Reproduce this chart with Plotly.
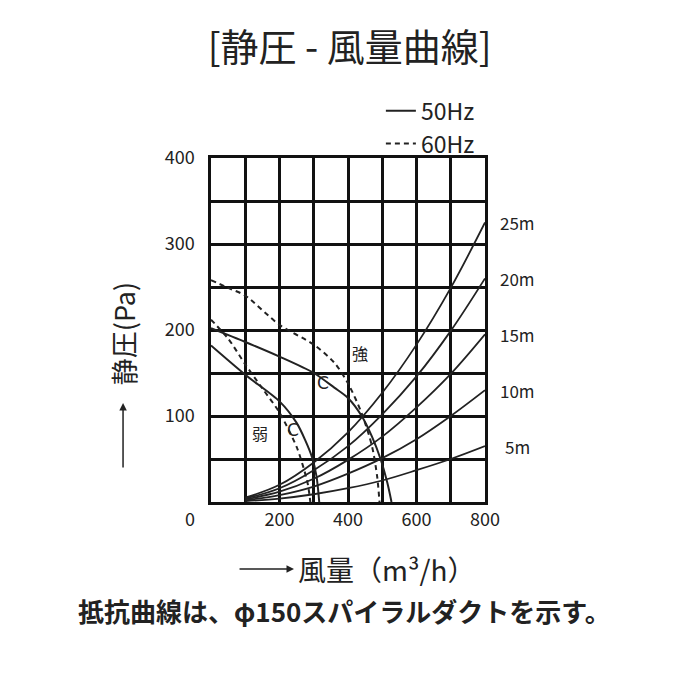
import plotly.graph_objects as go

FONT = "Noto Sans CJK JP"

# fan curves (static pressure vs air volume)
q_strong_50 = [0, 100, 200, 300, 360, 400, 440, 470, 495, 515, 527]
p_strong_50 = [202, 186, 169, 150, 133, 121, 100, 76, 50, 22, 0]
q_strong_60 = [0, 50, 100, 200, 300, 360, 400, 440, 470, 485, 492]
p_strong_60 = [258, 249, 240, 206, 183, 162, 138, 103, 65, 30, 0]
q_weak_50 = [0, 100, 200, 250, 275, 295, 308, 316]
p_weak_50 = [182, 148, 117, 92, 72, 52, 30, 0]
q_weak_60 = [0, 50, 100, 150, 200, 250, 270, 283, 290]
p_weak_60 = [212, 190, 160, 132, 104, 64, 40, 20, 0]

# duct resistance curves
q_duct = [100, 200, 300, 400, 500, 600, 700, 800]
duct_labels = ["5m", "10m", "15m", "20m", "25m"]
p_duct = [
    [1, 4, 9, 16, 25, 37, 50, 65],
    [2, 8, 18, 33, 51, 73, 100, 130],
    [3, 12, 27, 49, 76, 110, 149, 195],
    [4, 16, 37, 65, 102, 146, 199, 260],
    [5, 20, 46, 81, 127, 183, 249, 325],
]

x_ticks = [0, 100, 200, 300, 400, 500, 600, 700, 800]
x_ticktext = ["", "", "200", "", "400", "", "600", "", "800"]
y_ticks = [0, 50, 100, 150, 200, 250, 300, 350, 400]
y_ticktext = ["", "", "100", "", "200", "", "300", "", "400"]

fig = go.Figure()

line_solid = dict(color="#222", width=2, shape="spline", smoothing=0.8)
line_dash = dict(color="#222", width=2, shape="spline", smoothing=0.8, dash="5px,4px")

for p in p_duct:
    fig.add_trace(go.Scatter(x=q_duct, y=p, mode="lines", showlegend=False,
                             line=dict(color="#222", width=1.8, shape="spline")))

fig.add_trace(go.Scatter(x=q_strong_50, y=p_strong_50, mode="lines", name="50Hz", line=line_solid))
fig.add_trace(go.Scatter(x=q_strong_60, y=p_strong_60, mode="lines", name="60Hz", line=line_dash))
fig.add_trace(go.Scatter(x=q_weak_50, y=p_weak_50, mode="lines", showlegend=False, line=line_solid))
fig.add_trace(go.Scatter(x=q_weak_60, y=p_weak_60, mode="lines", showlegend=False, line=line_dash))

annotations = []
for name, p in zip(duct_labels, p_duct):
    annotations.append(dict(x=1.12, xref="paper", y=p[-1], yref="y", text=name,
                            xanchor="center", yanchor="middle",
                            showarrow=False, font=dict(size=17)))

annotations += [
    dict(x=435, y=173, text="強", showarrow=False, font=dict(size=16)),
    dict(x=143, y=80, text="弱", showarrow=False, font=dict(size=16)),
    dict(x=327, y=138, text="C", showarrow=False, font=dict(size=17, family="DejaVu Sans")),
    dict(x=240, y=84, text="C", showarrow=False, font=dict(size=17, family="DejaVu Sans")),
    # zero label at the corner
    dict(x=-0.077, y=-0.047, xref="paper", yref="paper", text="0", showarrow=False,
         xanchor="center", yanchor="middle", font=dict(size=18)),
    # axis titles and arrows
    dict(x=-0.321, y=0.488, xref="paper", yref="paper", text="静圧(Pa)", textangle=-90,
         xanchor="center", yanchor="middle", showarrow=False, font=dict(size=27)),
    dict(x=-0.321, y=0.288, xref="paper", yref="paper", text="", showarrow=True,
         ax=0, ay=66, arrowhead=2, arrowsize=1, arrowwidth=1.5, arrowcolor="#222"),
    dict(x=0.642, y=-0.195, xref="paper", yref="paper", text="風量（m³/h）",
         xanchor="center", yanchor="middle", showarrow=False, font=dict(size=28)),
    dict(x=0.303, y=-0.195, xref="paper", yref="paper", text="", showarrow=True,
         ax=-56, ay=0, arrowhead=2, arrowsize=1, arrowwidth=1.5, arrowcolor="#222"),
    dict(x=0.487, y=-0.314, xref="paper", yref="paper",
         text="抵抗曲線は、φ150スパイラルダクトを示す。", xanchor="center", yanchor="middle",
         showarrow=False, font=dict(size=26, weight=600)),
]

fig.update_layout(
    width=700, height=700, autosize=False,
    margin=dict(l=203, r=223, t=150, b=206),
    paper_bgcolor="white", plot_bgcolor="white",
    font=dict(family=FONT, color="#222", size=18),
    title=dict(text="[静圧 - 風量曲線]", x=0.488, xanchor="center", y=0.944, yanchor="middle",
               font=dict(size=38, family=FONT, color="#222")),
    legend=dict(x=0.62, y=1.2, xanchor="left", yanchor="top", bgcolor="rgba(0,0,0,0)",
                font=dict(size=23), tracegroupgap=0, itemwidth=30),
    annotations=annotations,
)

fig.update_xaxes(range=[0, 800], tickmode="array", tickvals=x_ticks, ticktext=x_ticktext,
                 showgrid=True, gridcolor="#111", gridwidth=2.5, zeroline=False,
                 showline=True, linecolor="#111", linewidth=2.5, mirror=True,
                 ticks="", tickfont=dict(size=18))
fig.update_yaxes(range=[0, 400], tickmode="array", tickvals=y_ticks, ticktext=y_ticktext,
                 showgrid=True, gridcolor="#111", gridwidth=2.5, zeroline=False,
                 showline=True, linecolor="#111", linewidth=2.5, mirror=True,
                 ticks="outside", ticklen=10, tickcolor="rgba(0,0,0,0)", tickfont=dict(size=18))

fig.write_html("out.html")
